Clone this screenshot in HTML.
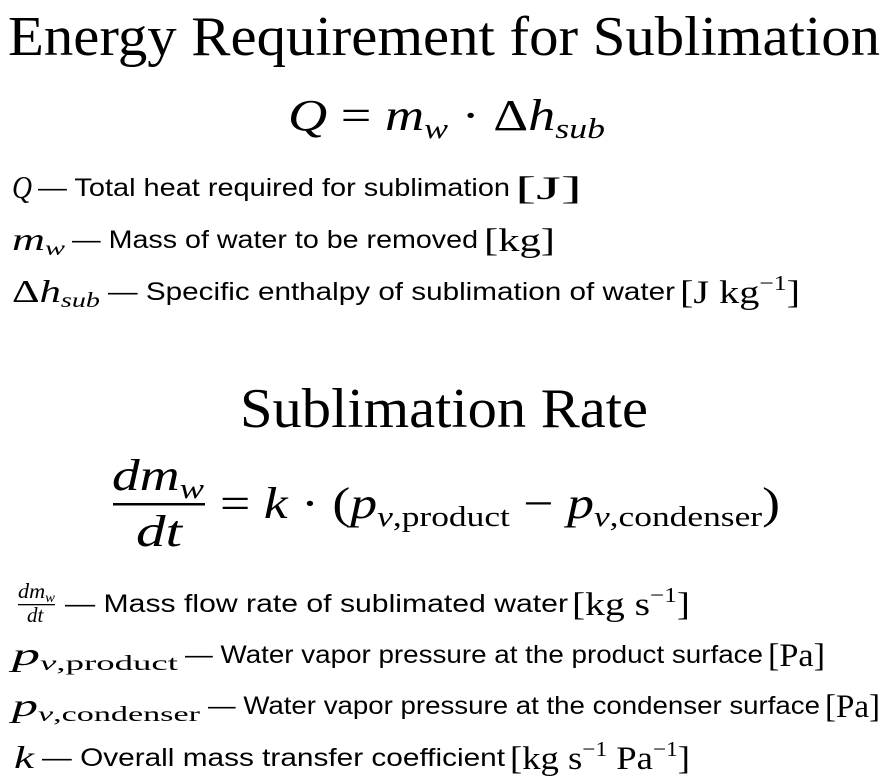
<!DOCTYPE html>
<html><head><meta charset="utf-8"><style>
html,body{margin:0;padding:0;background:#fff;}
svg{display:block}
.t{font-family:"Liberation Serif",serif;}
.m{font-family:"Liberation Serif",serif;font-style:italic;}
.r{font-family:"Liberation Serif",serif;font-style:normal;}
.s{font-family:"Liberation Sans",sans-serif;}
</style></head><body>
<svg width="890" height="782" viewBox="0 0 890 782" xmlns="http://www.w3.org/2000/svg" fill="#000">
<text class="t" x="8" y="55" font-size="56" textLength="872" lengthAdjust="spacingAndGlyphs">Energy Requirement for Sublimation</text>
<text x="288" y="130" font-size="44" textLength="317" lengthAdjust="spacingAndGlyphs"><tspan class="m">Q</tspan><tspan class="r"> = </tspan><tspan class="m">m</tspan><tspan class="m" font-size="29" dy="8">w</tspan><tspan class="r" dy="-8"> · Δ</tspan><tspan class="m">h</tspan><tspan class="m" font-size="29" dy="8">sub</tspan></text>

<text x="12" y="198" font-size="32" class="m" textLength="20" lengthAdjust="spacingAndGlyphs">Q</text>
<text class="s" x="38" y="196" font-size="25" textLength="472" lengthAdjust="spacingAndGlyphs">— Total heat required for sublimation</text>
<text class="r" x="515" y="199" font-size="33" textLength="67" lengthAdjust="spacingAndGlyphs">[J]</text>

<text x="12" y="250" font-size="32" textLength="53" lengthAdjust="spacingAndGlyphs"><tspan class="m">m</tspan><tspan class="m" font-size="21" dy="5">w</tspan></text>
<text class="s" x="72" y="248" font-size="25" textLength="406" lengthAdjust="spacingAndGlyphs">— Mass of water to be removed</text>
<text class="r" x="484" y="251" font-size="33" textLength="71" lengthAdjust="spacingAndGlyphs">[kg]</text>

<text x="12" y="302" font-size="32" textLength="88" lengthAdjust="spacingAndGlyphs"><tspan class="r">Δ</tspan><tspan class="m">h</tspan><tspan class="m" font-size="21" dy="5">sub</tspan></text>
<text class="s" x="108" y="300" font-size="25" textLength="567" lengthAdjust="spacingAndGlyphs">— Specific enthalpy of sublimation of water</text>
<text x="680" y="303" font-size="33" class="r" textLength="120" lengthAdjust="spacingAndGlyphs">[J kg<tspan font-size="21" dy="-13">−1</tspan><tspan dy="13">]</tspan></text>

<text class="t" x="240" y="427" font-size="56" textLength="408" lengthAdjust="spacingAndGlyphs">Sublimation Rate</text>

<text x="112" y="490" font-size="44" textLength="92" lengthAdjust="spacingAndGlyphs"><tspan class="m">dm</tspan><tspan class="m" font-size="29" dy="8">w</tspan></text>
<rect x="113" y="503" width="92" height="2.5"/>
<text x="136" y="546" font-size="44" class="m" textLength="46" lengthAdjust="spacingAndGlyphs">dt</text>
<text x="220" y="518" font-size="44" textLength="560" lengthAdjust="spacingAndGlyphs"><tspan class="r">= </tspan><tspan class="m">k</tspan><tspan class="r"> · (</tspan><tspan class="m">p</tspan><tspan font-size="29" dy="8"><tspan class="m">v</tspan><tspan class="r">,product</tspan></tspan><tspan class="r" dy="-8"> − </tspan><tspan class="m">p</tspan><tspan font-size="29" dy="8"><tspan class="m">v</tspan><tspan class="r">,condenser</tspan></tspan><tspan class="r" dy="-8">)</tspan></text>

<text x="18" y="598" font-size="21" textLength="37" lengthAdjust="spacingAndGlyphs"><tspan class="m">dm</tspan><tspan class="m" font-size="14" dy="4">w</tspan></text>
<rect x="18" y="604" width="37" height="1.3"/>
<text x="27" y="622" font-size="21" class="m">dt</text>
<text class="s" x="65" y="612" font-size="25" textLength="503" lengthAdjust="spacingAndGlyphs">— Mass flow rate of sublimated water</text>
<text x="572" y="615" font-size="33" class="r" textLength="118" lengthAdjust="spacingAndGlyphs">[kg s<tspan font-size="21" dy="-13">−1</tspan><tspan dy="13">]</tspan></text>

<text x="12" y="665" font-size="32" textLength="166" lengthAdjust="spacingAndGlyphs"><tspan class="m">p</tspan><tspan font-size="21" dy="5"><tspan class="m">v</tspan><tspan class="r">,product</tspan></tspan></text>
<text class="s" x="185" y="663" font-size="25" textLength="578" lengthAdjust="spacingAndGlyphs">— Water vapor pressure at the product surface</text>
<text x="768" y="666" font-size="33" class="r" textLength="57" lengthAdjust="spacingAndGlyphs">[Pa]</text>

<text x="12" y="716" font-size="32" textLength="188" lengthAdjust="spacingAndGlyphs"><tspan class="m">p</tspan><tspan font-size="21" dy="5"><tspan class="m">v</tspan><tspan class="r">,condenser</tspan></tspan></text>
<text class="s" x="208" y="714" font-size="25" textLength="612" lengthAdjust="spacingAndGlyphs">— Water vapor pressure at the condenser surface</text>
<text x="825" y="717" font-size="33" class="r" textLength="55" lengthAdjust="spacingAndGlyphs">[Pa]</text>

<text x="14" y="768" font-size="32" class="m" textLength="20" lengthAdjust="spacingAndGlyphs">k</text>
<text class="s" x="42" y="766" font-size="25" textLength="463" lengthAdjust="spacingAndGlyphs">— Overall mass transfer coefficient</text>
<text x="510" y="769" font-size="33" class="r" textLength="180" lengthAdjust="spacingAndGlyphs">[kg s<tspan font-size="21" dy="-13">−1</tspan><tspan dy="13"> Pa</tspan><tspan font-size="21" dy="-13">−1</tspan><tspan dy="13">]</tspan></text>
</svg>
</body></html>
